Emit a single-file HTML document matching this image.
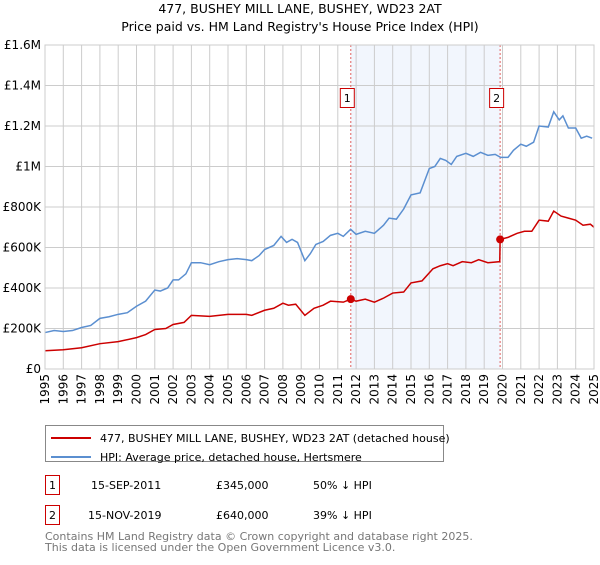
<!DOCTYPE html>
<html><head><meta charset="utf-8"><style>
body{margin:0;background:#fff;font-family:"Liberation Sans","DejaVu Sans",sans-serif;}
svg text{font-family:"DejaVu Sans","Liberation Sans",sans-serif;}
</style></head><body>
<svg id="c" width="600" height="560" xmlns="http://www.w3.org/2000/svg">
<text x="300" y="13" text-anchor="middle" font-size="12.5">477, BUSHEY MILL LANE, BUSHEY, WD23 2AT</text>
<text x="300" y="31" text-anchor="middle" font-size="12.5">Price paid vs. HM Land Registry's House Price Index (HPI)</text>
<g id="plot"></g>
<g>
<rect x="45.5" y="425.5" width="398" height="36" fill="#fff" stroke="#888"/>
<line x1="51" y1="438" x2="91" y2="438" stroke="#cc0000" stroke-width="2"/>
<text x="100" y="442" font-size="11">477, BUSHEY MILL LANE, BUSHEY, WD23 2AT (detached house)</text>
<line x1="51" y1="457" x2="91" y2="457" stroke="#5b8fd0" stroke-width="2"/>
<text x="100" y="461" font-size="11">HPI: Average price, detached house, Hertsmere</text>
</g>
<g font-size="11">
<rect x="45.5" y="475.5" width="14" height="19" fill="#fff" stroke="#cc0000"/>
<text x="52.5" y="489" text-anchor="middle">1</text>
<text x="91" y="489">15-SEP-2011</text><text x="216" y="489">£345,000</text><text x="313" y="489">50% ↓ HPI</text>
<rect x="45.5" y="505.5" width="14" height="19" fill="#fff" stroke="#cc0000"/>
<text x="52.5" y="519" text-anchor="middle">2</text>
<text x="88" y="519">15-NOV-2019</text><text x="216" y="519">£640,000</text><text x="313" y="519">39% ↓ HPI</text>
</g>
<text x="45" y="540" font-size="11" fill="#777">Contains HM Land Registry data © Crown copyright and database right 2025.</text>
<text x="45" y="551" font-size="11" fill="#777">This data is licensed under the Open Government Licence v3.0.</text>
</svg>
<script>
const yTicks=[0,200,400,600,800,1000,1200,1400,1600];
const yTickLabels=["£0","£200K","£400K","£600K","£800K","£1M","£1.2M","£1.4M","£1.6M"];
const years=[1995,1996,1997,1998,1999,2000,2001,2002,2003,2004,2005,2006,2007,2008,2009,2010,2011,2012,2013,2014,2015,2016,2017,2018,2019,2020,2021,2022,2023,2024,2025];
const hpiT=[1995,1995.5,1996,1996.5,1997,1997.5,1998,1998.5,1999,1999.5,2000,2000.5,2001,2001.3,2001.7,2002,2002.3,2002.7,2003,2003.5,2004,2004.5,2005,2005.5,2006,2006.3,2006.7,2007,2007.5,2007.9,2008.2,2008.5,2008.8,2009.2,2009.5,2009.8,2010.2,2010.6,2011,2011.3,2011.7,2012,2012.5,2013,2013.5,2013.8,2014.2,2014.6,2015,2015.5,2016,2016.3,2016.6,2016.9,2017.2,2017.5,2018,2018.4,2018.8,2019.2,2019.6,2019.9,2020.3,2020.6,2021,2021.3,2021.7,2022,2022.5,2022.8,2023.1,2023.3,2023.6,2024,2024.3,2024.6,2024.9];
const hpiV=[180,190,185,190,205,215,250,258,270,278,310,335,390,385,400,440,440,470,525,525,515,530,540,545,540,535,560,590,610,655,625,640,625,535,570,615,630,660,670,655,690,665,680,670,710,745,740,790,860,870,990,1000,1040,1030,1010,1050,1065,1050,1070,1055,1060,1045,1045,1080,1110,1100,1120,1200,1195,1270,1230,1250,1190,1190,1140,1150,1140];
const ppT=[1995,1996,1997,1998,1999,2000,2000.5,2001,2001.6,2002,2002.6,2003,2004,2005,2006,2006.3,2007,2007.5,2008,2008.3,2008.7,2009.2,2009.7,2010.2,2010.6,2011.3,2011.71,2012,2012.5,2013,2013.5,2014,2014.6,2015,2015.6,2016.2,2016.6,2017,2017.3,2017.8,2018.3,2018.7,2019.2,2019.85,2019.87,2020.3,2020.8,2021.2,2021.6,2022,2022.5,2022.8,2023.2,2023.6,2024,2024.4,2024.8,2025];
const ppV=[90,95,105,125,135,155,170,195,200,220,230,265,260,270,270,265,290,300,325,315,320,265,300,315,335,330,345,335,345,330,350,375,380,425,435,495,510,520,510,530,525,540,525,530,640,650,670,680,680,735,730,780,755,745,735,710,715,700];
const saleT=[2011.71,2019.87];
const saleV=[345,640];
const saleLabels=["1","2"];
const NS="http://www.w3.org/2000/svg";
const L=45,R=594,T=45,B=369;
const x=t=>L+(t-1995)/30*(R-L);
const y=v=>B-v/1600*(B-T);
const g=document.getElementById('plot');
function el(n,a,p){const e=document.createElementNS(NS,n);for(const k in a)e.setAttribute(k,a[k]);(p||g).appendChild(e);return e;}
const sh=el('rect',{x:x(saleT[0]),y:T,width:x(saleT[1])-x(saleT[0]),height:B-T,fill:'#eef3fc',opacity:0.75});


years.forEach(yr=>{const l=el('line',{x1:x(yr),x2:x(yr),y1:T,y2:B,stroke:'#ccc'});


const t=el('text',{x:0,y:0,'font-size':12,'text-anchor':'end',transform:`translate(${x(yr)+4},${B+5}) rotate(-90)`});t.textContent=yr;

});
yTicks.forEach((v,i)=>{const l=el('line',{x1:L,x2:R,y1:y(v),y2:y(v),stroke:'#ccc'});


const t=el('text',{x:L-4,y:y(v)+4,'font-size':12,'text-anchor':'end'});t.textContent=yTickLabels[i];

});
saleT.forEach((s,i)=>{const l=el('line',{x1:x(s),x2:x(s),y1:T,y2:B,stroke:'#e06060','stroke-dasharray':'2,2'});


const r=el('rect',{x:x(s)-10.5,y:88.5,width:14,height:19,fill:'#fff',stroke:'#cc0000'});


const t=el('text',{x:x(s)-3.5,y:102,'font-size':11,'text-anchor':'middle'});t.textContent=saleLabels[i];

});
const hp=el('polyline',{points:hpiT.map((t,i)=>x(t)+','+y(hpiV[i])).join(' '),fill:'none',stroke:'#5b8fd0','stroke-width':1.5});


const pp=el('polyline',{points:ppT.map((t,i)=>x(t)+','+y(ppV[i])).join(' '),fill:'none',stroke:'#cc0000','stroke-width':1.5});


saleT.forEach((s,i)=>{const c=el('circle',{cx:x(s),cy:y(saleV[i]),r:4,fill:'#cc0000'});

});
const ax=el('rect',{x:L,y:T,width:R-L,height:B-T,fill:'none',stroke:'#ccc'});


</script>
</body></html>
